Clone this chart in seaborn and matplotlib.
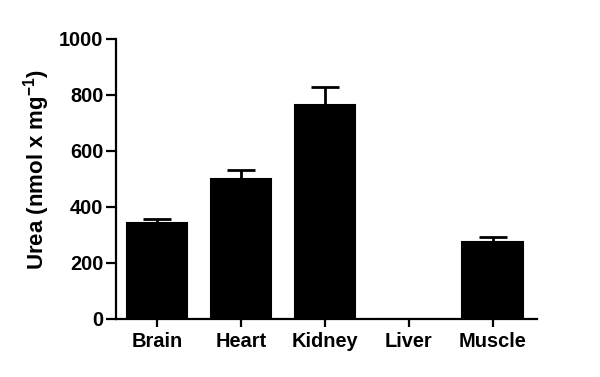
# Urea content per tissue, Prism-style bar chart with upward SEM bars

import matplotlib
matplotlib.use("Agg")
import matplotlib.pyplot as plt
import pandas as pd
import seaborn as sns

tissues = ["Brain", "Heart", "Kidney", "Liver", "Muscle"]
urea = [343, 500, 764, 0, 275]
sem = [14, 32, 65, 0, 17]
yticks = [0, 200, 400, 600, 800, 1000]

df = pd.DataFrame({"tissue": tissues, "urea": urea, "sem": sem})

sns.set_style("ticks")
plt.rcParams["font.family"] = ["Liberation Sans", "DejaVu Sans"]
plt.rcParams["font.weight"] = "bold"
plt.rcParams["mathtext.fontset"] = "custom"
plt.rcParams["mathtext.rm"] = "Liberation Sans:bold"
plt.rcParams["mathtext.default"] = "rm"

fig = plt.figure(figsize=(6, 3.77), dpi=100)
ax = fig.add_axes([0.193, 0.154, 0.702, 0.743])

# error bars first so bars hide the lower half
ax.errorbar(range(len(tissues)), df["urea"], yerr=[[0] * len(sem), df["sem"]],
            fmt="none", ecolor="black", elinewidth=2, capsize=10, capthick=2, zorder=1)
sns.barplot(data=df, x="tissue", y="urea", color="black", width=0.72,
            edgecolor="black", linewidth=1.5, saturation=1, ax=ax, zorder=2)

ax.set_ylim(0, 1000)
ax.set_xlim(-0.49, 4.53)
ax.set_yticks(yticks)
ax.set_xlabel("")
ax.set_ylabel("Urea (nmol x mg$^{-1}$)", fontsize=16, fontweight="bold", color="black")
ax.yaxis.set_label_coords(-0.152, 0.535)

for side in ["top", "right"]:
    ax.spines[side].set_visible(False)
for side in ["left", "bottom"]:
    ax.spines[side].set_linewidth(1.6)
    ax.spines[side].set_color("black")

ax.tick_params(axis="y", length=7, width=1.6, labelsize=14.4, pad=2, colors="black")
ax.tick_params(axis="x", length=5.5, width=1.6, labelsize=14.4, pad=4, colors="black")
for lbl in ax.get_xticklabels() + ax.get_yticklabels():
    lbl.set_fontweight("bold")

fig.savefig("out.png", dpi=100)
